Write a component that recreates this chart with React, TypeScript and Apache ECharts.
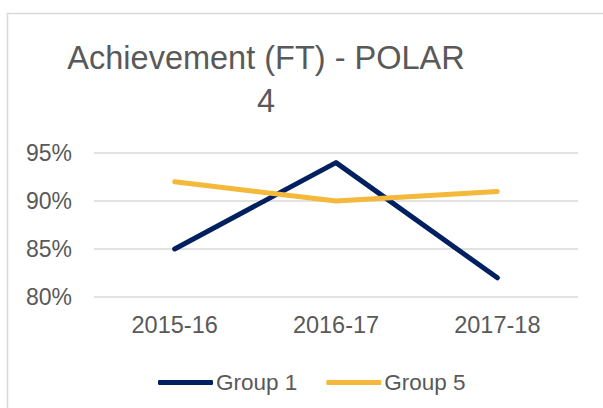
import React, { useEffect, useRef } from "react";
import * as echarts from "echarts";

const categories = ["2015-16", "2016-17", "2017-18"];
const group1 = [85, 94, 82];
const group5 = [92, 90, 91];
const seriesNames = ["Group 1", "Group 5"];
const titleText = "Achievement (FT) - POLAR\n4";

const TEXT = "#595959";
const FONT = "'Liberation Sans', Arial, sans-serif";

export default function App() {
  const ref = useRef<HTMLDivElement>(null);
  useEffect(() => {
    if (!ref.current) return;
    const chart = echarts.init(ref.current, undefined, { renderer: "svg" });
    chart.setOption({
      animation: false,
      backgroundColor: "#ffffff",
      graphic: [
        {
          type: "rect",
          shape: { x: 7.5, y: 13.5, width: 700, height: 500 },
          style: { fill: "none", stroke: "#D9D9D9", lineWidth: 1.5 },
          silent: true,
        },
        {
          type: "text",
          x: 266,
          y: 36,
          style: {
            text: titleText,
            align: "center",
            verticalAlign: "top",
            fontSize: 32.5,
            lineHeight: 43,
            fontFamily: FONT,
            fill: TEXT,
          },
        },
      ],
      legend: {
        data: seriesNames,
        left: 153,
        top: 366,
        icon: "roundRect",
        itemWidth: 55,
        itemHeight: 5,
        itemGap: 29,
        textStyle: { color: TEXT, fontSize: 22.5, fontFamily: FONT, padding: [0, 0, 0, -2] },
      },
      grid: { left: 94, right: 25, top: 153, bottom: 111 },
      xAxis: {
        type: "category",
        data: categories,
        boundaryGap: true,
        axisLine: { show: false },
        axisTick: { show: false },
        axisLabel: { color: TEXT, fontSize: 23.5, fontFamily: FONT, margin: 16 },
      },
      yAxis: {
        type: "value",
        min: 80,
        max: 95,
        interval: 5,
        axisLine: { show: false },
        axisTick: { show: false },
        axisLabel: {
          color: TEXT,
          fontSize: 23,
          fontFamily: FONT,
          margin: 22,
          formatter: (v: number) => v + "%",
        },
        splitLine: { lineStyle: { color: "#D9D9D9", width: 1.5 } },
      },
      series: [
        {
          name: seriesNames[0],
          type: "line",
          data: group1,
          symbol: "none",
          color: "#002060",
          lineStyle: { width: 5, color: "#002060", cap: "round", join: "round" },
        },
        {
          name: seriesNames[1],
          type: "line",
          data: group5,
          symbol: "none",
          color: "#F4B83A",
          lineStyle: { width: 5, color: "#F4B83A", cap: "round", join: "round" },
        },
      ],
    });
    return () => chart.dispose();
  }, []);
  return (
    <div
      ref={ref}
      style={{ position: "fixed", left: 0, top: 0, width: 603, height: 408 }}
    />
  );
}
